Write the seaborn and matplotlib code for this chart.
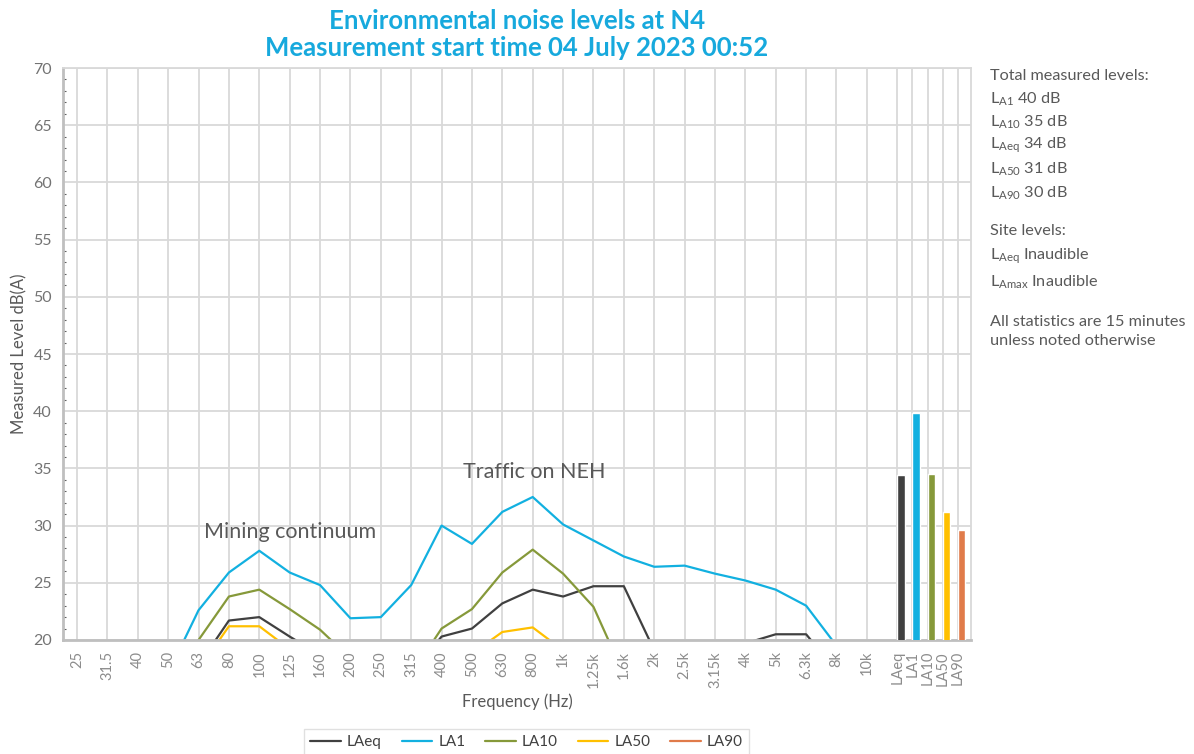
import numpy as np
import pandas as pd
import matplotlib
matplotlib.use('Agg')
import matplotlib.pyplot as plt
from matplotlib.ticker import MultipleLocator
import seaborn as sns

freq_labels = ['25', '31.5', '40', '50', '63', '80', '100', '125', '160', '200', '250',
               '315', '400', '500', '630', '800', '1k', '1.25k', '1.6k', '2k', '2.5k',
               '3.15k', '4k', '5k', '6.3k', '8k', '10k']

# third-octave spectra, dB(A) (values under 20 are off the chart)
laeq = [12.0, 13.0, 14.5, 16.0, 17.8, 21.7, 22.0, 20.3, 18.7, 17.5, 16.5, 17.0, 20.3,
        21.0, 23.2, 24.4, 23.8, 24.7, 24.7, 19.1, 17.0, 18.0, 19.7, 20.5, 20.5, 17.3, 15.0]
la1 = [12.0, 13.0, 15.0, 17.1, 22.6, 25.9, 27.8, 25.9, 24.8, 21.9, 22.0, 24.8, 30.0,
       28.4, 31.2, 32.5, 30.1, 28.7, 27.3, 26.4, 26.5, 25.8, 25.2, 24.4, 23.0, 19.5, 17.0]
la10 = [11.0, 12.5, 14.0, 16.0, 20.0, 23.8, 24.4, 22.7, 20.9, 18.4, 17.0, 17.0, 21.0,
        22.7, 25.9, 27.9, 25.8, 22.9, 17.0, 16.0, 15.5, 15.5, 16.0, 16.5, 16.5, 15.0, 13.0]
la50 = [10.0, 11.5, 13.0, 15.0, 17.4, 21.2, 21.2, 19.2, 17.5, 16.0, 15.0, 15.5, 17.5,
        18.8, 20.7, 21.1, 19.1, 18.0, 17.0, 15.5, 15.0, 15.0, 15.5, 16.0, 16.0, 14.0, 12.0]
la90 = [9.5, 11.0, 12.5, 14.5, 16.8, 19.6, 19.7, 18.5, 17.0, 15.5, 14.5, 15.0, 17.0,
        18.0, 19.5, 19.8, 18.6, 17.5, 16.5, 15.0, 14.5, 14.5, 15.0, 15.5, 15.5, 13.5, 11.5]

bar_labels = ['LAeq', 'LA1', 'LA10', 'LA50', 'LA90']
bar_values = [34.4, 39.8, 34.5, 31.2, 29.6]

colors = {'LAeq': '#404040', 'LA1': '#12B0E0', 'LA10': '#86993A',
          'LA50': '#FFC000', 'LA90': '#E07B4A'}

sns.set_theme(style='white')
plt.rcParams['font.family'] = ['Lato', 'DejaVu Sans']
plt.rcParams['mathtext.fontset'] = 'custom'
plt.rcParams['mathtext.rm'] = 'Lato'
plt.rcParams['mathtext.it'] = 'Lato'

fig = plt.figure(figsize=(11.94, 7.54), dpi=100)
ax = fig.add_axes([0.0528, 0.1512, 0.7605, 0.7586])

n = len(freq_labels)
pos = np.arange(n)
df = pd.DataFrame({
    'pos': np.tile(pos, 5),
    'level': laeq + la1 + la10 + la50 + la90,
    'series': np.repeat(bar_labels, n),
})
sns.lineplot(data=df, x='pos', y='level', hue='series', palette=colors,
             linewidth=1.6, ax=ax, legend=False)

bar_pos = n + np.arange(len(bar_labels)) * 0.5
ax.bar(bar_pos, bar_values, width=0.24, align='edge',
       color=[colors[b] for b in bar_labels], zorder=3)

all_pos = list(pos) + list(bar_pos)
ax.set_xticks(all_pos)
ax.set_xticklabels(freq_labels + bar_labels, rotation=90, color='#8C8C8C', fontsize=10.5)
ax.set_xlim(-0.46, 29.43)
ax.set_ylim(20, 70)
ax.yaxis.set_major_locator(MultipleLocator(5))
ax.yaxis.set_minor_locator(MultipleLocator(1))
ax.tick_params(axis='y', which='major', labelsize=11.5, labelcolor='#737373', length=0, pad=8)
ax.tick_params(axis='y', which='minor', direction='in', length=2.5, width=0.8,
               color='#606060', left=True)
ax.tick_params(axis='x', length=0, pad=8)
ax.grid(True, which='major', color='#D9D9D9', linewidth=1.3, zorder=0)
ax.set_axisbelow(True)
for side in ['left', 'bottom']:
    ax.spines[side].set_color('#BFBFBF')
    ax.spines[side].set_linewidth(2)
for side in ['top', 'right']:
    ax.spines[side].set_color('#D9D9D9')
    ax.spines[side].set_linewidth(1.3)

ax.set_xlabel('Frequency (Hz)', fontsize=12, color='#595959', labelpad=4)
ax.set_ylabel('Measured Level dB(A)', fontsize=12, color='#595959', labelpad=4)

fig.text(0.433, 0.988, 'Environmental noise levels at N4\nMeasurement start time 04 July 2023 00:52',
         ha='center', va='top', fontsize=18.5, fontweight='bold', color='#17A9DD',
         linespacing=1.15)

ax.text(7.0, 29.4, 'Mining continuum', fontsize=15.5, color='#595959', ha='center', va='center')
ax.text(15.05, 34.7, 'Traffic on NEH', fontsize=15.5, color='#595959', ha='center', va='center')

side_lines = [
    (76, 'Total measured levels:'),
    (99, r'L$_{\mathrm{A1}}$ 40 dB'),
    (122, r'L$_{\mathrm{A10}}$ 35 dB'),
    (145, r'L$_{\mathrm{Aeq}}$ 34 dB'),
    (169, r'L$_{\mathrm{A50}}$ 31 dB'),
    (193, r'L$_{\mathrm{A90}}$ 30 dB'),
    (231, 'Site levels:'),
    (256, r'L$_{\mathrm{Aeq}}$ Inaudible'),
    (282, r'L$_{\mathrm{Amax}}$ Inaudible'),
    (322, 'All statistics are 15 minutes'),
    (341, 'unless noted otherwise'),
]
for y, s in side_lines:
    fig.text(990 / 1194, 1 - y / 754, s, fontsize=11.7, color='#595959', ha='left', va='center')

handles = [plt.Line2D([], [], color=colors[b], linewidth=1.6) for b in bar_labels]
fig.legend(handles, bar_labels, loc='lower center', bbox_to_anchor=(0.441, -0.012),
           ncol=5, frameon=True, fontsize=11, handlelength=2.0, columnspacing=1.3,
           handletextpad=0.4, edgecolor='#D9D9D9', fancybox=False, labelcolor='#404040')

fig.savefig('out.png', dpi=100)
